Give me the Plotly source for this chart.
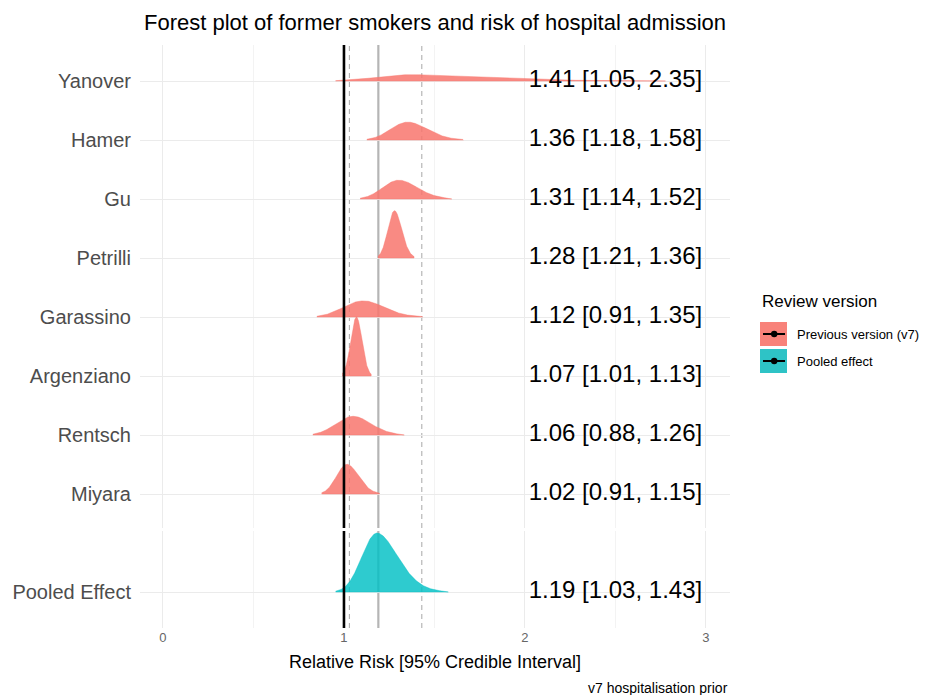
import numpy as np
import plotly.graph_objects as go

# Study-level relative risks with 95% credible intervals (top to bottom)
studies = ["Yanover", "Hamer", "Gu", "Petrilli", "Garassino", "Argenziano", "Rentsch", "Miyara"]
rr = [1.41, 1.36, 1.31, 1.28, 1.12, 1.07, 1.06, 1.02]
lower = [1.05, 1.18, 1.14, 1.21, 0.91, 1.01, 0.88, 0.91]
upper = [2.35, 1.58, 1.52, 1.36, 1.35, 1.13, 1.26, 1.15]

# Pooled estimate
pooled_label = "Pooled Effect"
pooled_rr = 1.19
pooled_lower = 1.03
pooled_upper = 1.43

null_value = 1.0
x_ticks = [0, 1, 2, 3]

legend_labels = ["Previous version (v7)", "Pooled effect"]
study_fill = "rgba(248,118,109,0.85)"
pooled_fill = "rgba(0,191,196,0.82)"
study_key = "#F8827A"
pooled_key = "#2EC3C6"

FONT = "Liberation Sans, Arial, sans-serif"


def split_lognormal_curve(median, lo, hi, n=500, cut=2.6):
    """Two-piece log-normal density matched to a median and a 95% interval."""
    mu = np.log(median)
    s_lo = (mu - np.log(lo)) / 1.96
    s_hi = (np.log(hi) - mu) / 1.96
    z = np.linspace(mu - cut * s_lo, mu + cut * s_hi, n)
    s = np.where(z < mu, s_lo, s_hi)
    f = 2.0 / (np.sqrt(2 * np.pi) * (s_lo + s_hi)) * np.exp(-((z - mu) ** 2) / (2 * s ** 2))
    xs = np.exp(z)
    return xs, f / xs


def fmt(m, lo, hi):
    return f"{m:.2f} [{lo:.2f}, {hi:.2f}]"


fig = go.Figure()

# ---- ridgelines for the individual studies (top panel) ----
n = len(studies)
rows = [n - i for i in range(n)]          # Yanover at the top
curves = [split_lognormal_curve(m, lo, hi) for m, lo, hi in zip(rr, lower, upper)]
peak = max(d.max() for _, d in curves)
ridge_scale = 1.0

for (xs, dens), row in zip(curves, rows):
    h = dens / peak * ridge_scale
    fig.add_trace(go.Scatter(
        x=np.concatenate([xs, xs[::-1]]),
        y=np.concatenate([row + h, np.full_like(xs, row)]),
        fill="toself", fillcolor=study_fill, mode="lines",
        line=dict(color=study_fill, width=0.5),
        xaxis="x", yaxis="y", hoverinfo="skip", showlegend=False,
    ))

fig.add_trace(go.Scatter(
    x=[2.5] * n, y=rows, mode="text",
    text=[fmt(m, lo, hi) for m, lo, hi in zip(rr, lower, upper)],
    textfont=dict(size=24, color="black", family=FONT),
    xaxis="x", yaxis="y", hoverinfo="skip", showlegend=False, cliponaxis=False,
))

# ---- pooled ridgeline (bottom panel) ----
pxs, pdens = split_lognormal_curve(pooled_rr, pooled_lower, pooled_upper, cut=3.0)
ph = pdens / pdens.max() * ridge_scale
fig.add_trace(go.Scatter(
    x=np.concatenate([pxs, pxs[::-1]]),
    y=np.concatenate([1 + ph, np.full_like(pxs, 1.0)]),
    fill="toself", fillcolor=pooled_fill, mode="lines",
    line=dict(color=pooled_fill, width=0.5),
    xaxis="x2", yaxis="y2", hoverinfo="skip", showlegend=False,
))
fig.add_trace(go.Scatter(
    x=[2.5], y=[1], mode="text",
    text=[fmt(pooled_rr, pooled_lower, pooled_upper)],
    textfont=dict(size=24, color="black", family=FONT),
    xaxis="x2", yaxis="y2", hoverinfo="skip", showlegend=False, cliponaxis=False,
))

# ---- reference lines: null effect, pooled estimate and its interval ----
shapes = []
for xr, yr in (("x", "y domain"), ("x2", "y2 domain")):
    shapes.append(dict(type="line", xref=xr, yref=yr, x0=pooled_rr, x1=pooled_rr, y0=0, y1=1,
                       line=dict(color="#b5b5b5", width=2.2), layer="below"))
    for v in (pooled_lower, pooled_upper):
        shapes.append(dict(type="line", xref=xr, yref=yr, x0=v, x1=v, y0=0, y1=1,
                           line=dict(color="#b0b0b0", width=1.1, dash="5px,4px"), layer="below"))
    shapes.append(dict(type="line", xref=xr, yref=yr, x0=null_value, x1=null_value, y0=0, y1=1,
                       line=dict(color="black", width=2.6), layer="above"))

# ---- legend drawn as keys + labels ----
PL, PR, PT, PB = 140, 730, 45, 628


def px_x(p):
    return (p - PL) / (PR - PL)


def px_y(p):
    return (PB - p) / (PB - PT)


key_fills = [study_key, pooled_key]
key_tops = [322, 349]
annotations = [dict(text="Review version", x=px_x(760), y=px_y(301), xref="paper", yref="paper",
                    xanchor="left", yanchor="middle", showarrow=False,
                    font=dict(size=17, color="black", family=FONT))]
for lab, col, top in zip(legend_labels, key_fills, key_tops):
    mid = top + 12
    shapes.append(dict(type="rect", xref="paper", yref="paper",
                       x0=px_x(760), x1=px_x(787), y0=px_y(top + 24), y1=px_y(top),
                       fillcolor=col, line=dict(width=0)))
    shapes.append(dict(type="line", xref="paper", yref="paper",
                       x0=px_x(763), x1=px_x(785), y0=px_y(mid), y1=px_y(mid),
                       line=dict(color="black", width=2)))
    shapes.append(dict(type="circle", xref="paper", yref="paper",
                       x0=px_x(771), x1=px_x(777.4), y0=px_y(mid + 3.2), y1=px_y(mid - 3.2),
                       fillcolor="black", line=dict(width=0)))
    annotations.append(dict(text=lab, x=px_x(795), y=px_y(mid), xref="paper", yref="paper",
                            xanchor="left", yanchor="middle", showarrow=False,
                            font=dict(size=13, color="black", family=FONT)))

annotations.append(dict(text="Relative Risk [95% Credible Interval]", x=0.5, y=px_y(662),
                        xref="paper", yref="paper", xanchor="center", yanchor="middle",
                        showarrow=False, font=dict(size=18, color="black", family=FONT)))
annotations.append(dict(text="v7 hospitalisation prior", x=1.0, y=px_y(688),
                        xref="paper", yref="paper", xanchor="right", yanchor="middle",
                        showarrow=False, font=dict(size=14, color="black", family=FONT)))

grid = "#ebebeb"
xcommon = dict(range=[-0.127, 3.133], tickvals=x_ticks, showgrid=True, gridcolor=grid, gridwidth=1.1,
               minor=dict(dtick=0.5, showgrid=True, gridcolor="#f3f3f3", gridwidth=0.8),
               zeroline=False, showline=False, ticks="")

# panel geometry: top panel px 45..528, bottom panel px 531..628
top_dom = [px_y(528), 1.0]
bot_dom = [0.0, px_y(531)]
row_px = 59.0
y_top_range = [1 - (528 - 494) / row_px, n + (81 - 45) / row_px]
y_bot_range = [1 - (628 - 592) / row_px, 1 + (592 - 531) / row_px]

fig.update_layout(
    width=937, height=695,
    margin=dict(l=PL, r=937 - PR, t=PT, b=695 - PB),
    paper_bgcolor="white", plot_bgcolor="white",
    font=dict(family=FONT),
    title=dict(text="Forest plot of former smokers and risk of hospital admission",
               x=0.5, xref="paper", xanchor="center", y=1 - 22 / 695, yanchor="middle",
               font=dict(size=22, color="black", family=FONT)),
    xaxis=dict(**xcommon, anchor="y", domain=[0, 1], showticklabels=False),
    xaxis2=dict(**xcommon, anchor="y2", domain=[0, 1], matches="x",
                tickfont=dict(size=13, color="#666666", family=FONT)),
    yaxis=dict(domain=top_dom, range=y_top_range, tickvals=rows, ticktext=studies,
               showgrid=True, gridcolor=grid, gridwidth=1.1, zeroline=False, ticks="",
               ticklabelstandoff=8, tickfont=dict(size=20, color="#4d4d4d", family=FONT)),
    yaxis2=dict(domain=bot_dom, range=y_bot_range, tickvals=[1], ticktext=[pooled_label],
                showgrid=True, gridcolor=grid, gridwidth=1.1, zeroline=False, ticks="",
                ticklabelstandoff=8, tickfont=dict(size=20, color="#4d4d4d", family=FONT)),
    shapes=shapes,
    annotations=annotations,
    showlegend=False,
)

fig.write_html("out.html")
